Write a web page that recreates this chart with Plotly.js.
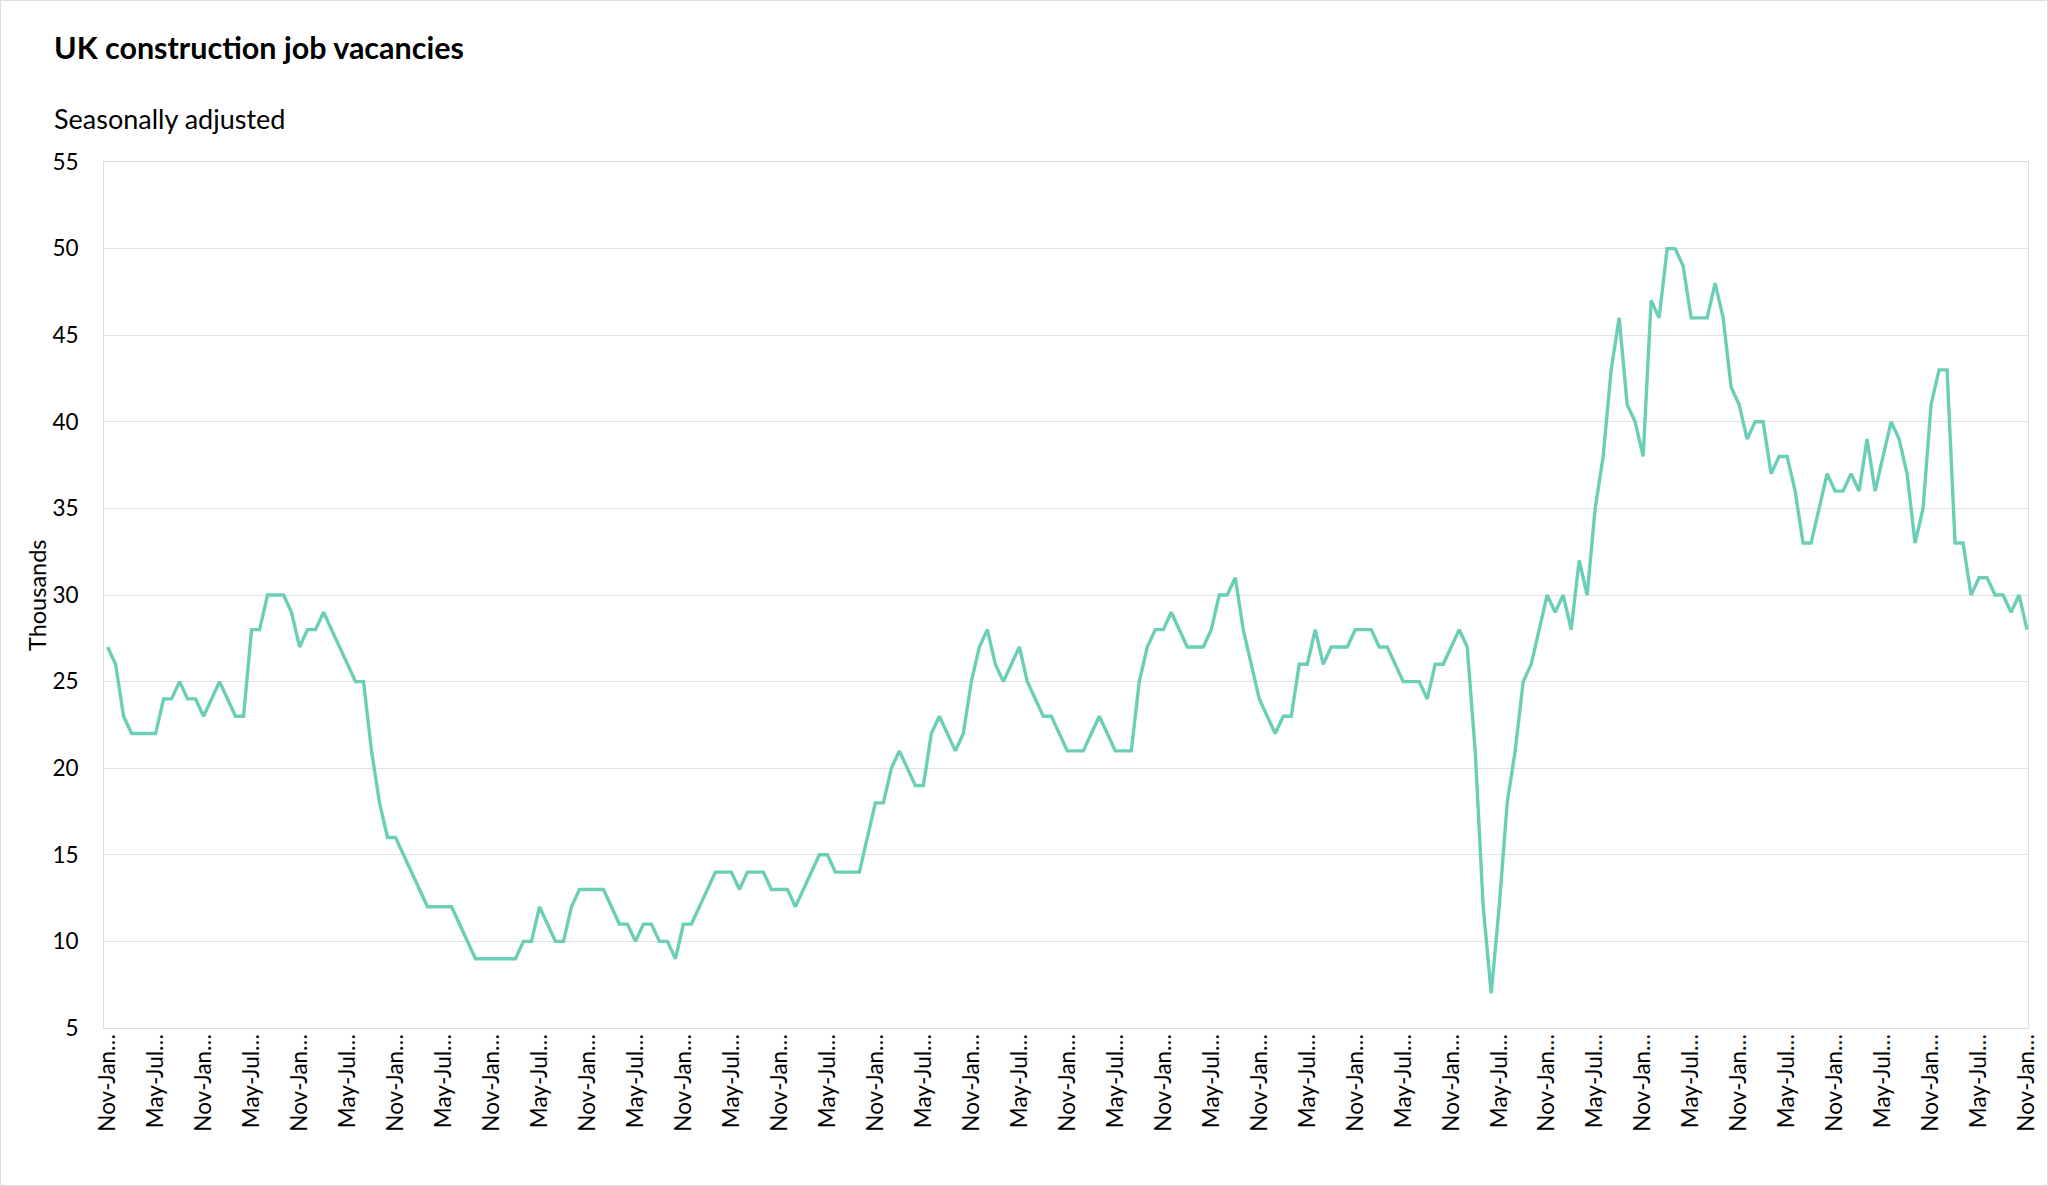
<!DOCTYPE html>
<html>
<head>
<meta charset="utf-8">
<script src="https://cdn.plot.ly/plotly-3.0.1.min.js"></script>
<style>
  html, body { margin: 0; padding: 0; background: #ffffff; }
  #wrap { width: 2046px; height: 1184px; border: 1px solid #dcdcdc; }
  #chart { width: 2046px; height: 1184px; }
</style>
</head>
<body>
<div id="wrap"><div id="chart"></div></div>
<script>
// ---- Data (thousands, seasonally adjusted, rolling three-month periods) ----
const monthNames = ["Jan","Feb","Mar","Apr","May","Jun","Jul","Aug","Sep","Oct","Nov","Dec"];
const startMonthIndex = 10;   // first period starts in November
const startYear = 2005;

const vacancies = [
  27,26,23,22,22,22,22,24,24,25,24,24,23,24,25,24,23,23,28,28,30,30,30,29,27,
  28,28,29,28,27,26,25,25,21,18,16,16,15,14,13,12,12,12,12,11,10,9,9,9,
  9,9,9,10,10,12,11,10,10,12,13,13,13,13,12,11,11,10,11,11,10,10,9,11,
  11,12,13,14,14,14,13,14,14,14,13,13,13,12,13,14,15,15,14,14,14,14,16,18,
  18,20,21,20,19,19,22,23,22,21,22,25,27,28,26,25,26,27,25,24,23,23,22,21,
  21,21,22,23,22,21,21,21,25,27,28,28,29,28,27,27,27,28,30,30,31,28,26,24,
  23,22,23,23,26,26,28,26,27,27,27,28,28,28,27,27,26,25,25,25,24,26,26,27,
  28,27,21,12,7,12,18,21,25,26,28,30,29,30,28,32,30,35,38,43,46,41,40,38,
  47,46,50,50,49,46,46,46,48,46,42,41,39,40,40,37,38,38,36,33,33,35,37,36,
  36,37,36,39,36,38,40,39,37,33,35,41,43,43,33,33,30,31,31,30,30,29,30,28
];

// Category labels for each rolling period, e.g. "Nov-Jan 2006"
const categories = vacancies.map((_, i) => {
  const m0 = (startMonthIndex + i) % 12;
  const m2 = (startMonthIndex + i + 2) % 12;
  const endYear = startYear + Math.floor((startMonthIndex + i + 2) / 12);
  return monthNames[m0] + "-" + monthNames[m2] + " " + endYear;
});

const tickStep = 6;
const tickVals = categories.filter((_, i) => i % tickStep === 0);
const tickText = tickVals.map(c => c.split(" ")[0] + "\u2026");

const yTicks = [5, 10, 15, 20, 25, 30, 35, 40, 45, 50, 55];

const titleText = "UK construction job vacancies";
const subtitleText = "Seasonally adjusted";
const yTitleText = "Thousands";

// ---- Chart ----
const FONT = "Lato, 'Open Sans', sans-serif";
const W = 2046, H = 1184;
const mL = 103, mR = 19, mT = 161, mB = 157;
const plotW = W - mL - mR, plotH = H - mT - mB;
const px2x = px => (px - mL) / plotW;
const px2y = py => (H - mB - py) / plotH;

const trace = {
  type: "scatter",
  mode: "lines",
  x: categories,
  y: vacancies,
  line: { color: "#6acfb5", width: 3.4 },
  hoverinfo: "x+y"
};

const layout = {
  width: W,
  height: H,
  margin: { l: mL, r: mR, t: mT, b: mB, pad: 0 },
  paper_bgcolor: "#ffffff",
  plot_bgcolor: "#ffffff",
  font: { family: FONT, color: "#000000", size: 22 },
  showlegend: false,
  xaxis: {
    type: "category",
    categoryorder: "array",
    categoryarray: categories,
    range: [-0.45, categories.length - 1 + 0.12],
    tickmode: "array",
    tickvals: tickVals,
    ticktext: tickText,
    tickangle: -90,
    tickfont: { family: FONT, size: 22.5, color: "#000000" },
    ticks: "",
    ticklabelstandoff: -4,
    showgrid: false,
    showline: true,
    linecolor: "#dcdcdc",
    linewidth: 1,
    mirror: true,
    zeroline: false,
    fixedrange: true
  },
  yaxis: {
    range: [5, 55],
    tickmode: "array",
    tickvals: yTicks,
    ticktext: yTicks.map(String),
    tickfont: { family: FONT, size: 22.5, color: "#000000" },
    ticks: "",
    ticklabelstandoff: 20,
    showgrid: true,
    gridcolor: "#e2e2e2",
    gridwidth: 1,
    showline: true,
    linecolor: "#dcdcdc",
    linewidth: 1,
    mirror: true,
    zeroline: false,
    fixedrange: true
  },
  annotations: [
    {
      text: "<b>" + titleText + "</b>",
      xref: "paper", yref: "paper",
      x: px2x(51), y: px2y(46),
      xanchor: "left", yanchor: "middle",
      showarrow: false,
      font: { family: FONT, size: 30.5, color: "#000000" }
    },
    {
      text: subtitleText,
      xref: "paper", yref: "paper",
      x: px2x(51), y: px2y(117),
      xanchor: "left", yanchor: "middle",
      showarrow: false,
      font: { family: FONT, size: 27, color: "#000000" }
    },
    {
      text: yTitleText,
      xref: "paper", yref: "paper",
      x: px2x(36), y: 0.5,
      xanchor: "center", yanchor: "middle",
      textangle: -90,
      showarrow: false,
      font: { family: FONT, size: 23.5, color: "#000000" }
    }
  ]
};

Plotly.newPlot("chart", [trace], layout, { displayModeBar: false, staticPlot: false });
</script>
</body>
</html>
